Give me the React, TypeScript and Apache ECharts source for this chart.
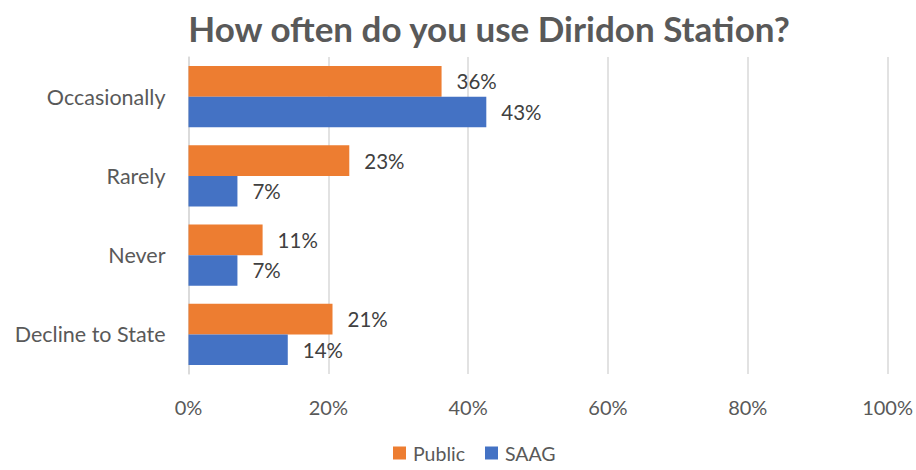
import React, { useEffect, useRef } from "react";
import * as echarts from "echarts";

const categories = ["Occasionally", "Rarely", "Never", "Decline to State"];
const publicValues = [36.2, 23.0, 10.6, 20.6];
const saagValues = [42.6, 7.0, 7.0, 14.2];
const xTicks = [0, 20, 40, 60, 80, 100];

const FONT = "Lato";

export default function App() {
  const ref = useRef<HTMLDivElement>(null);
  useEffect(() => {
    if (!ref.current) return;
    const chart = echarts.init(ref.current, undefined, { renderer: "svg" });
    const label = {
      show: true,
      position: "right",
      distance: 15,
      fontFamily: FONT,
      fontSize: 20.5,
      color: "#404040",
      formatter: (p: any) => Math.round(p.value) + "%",
    };
    chart.setOption({
      animation: false,
      backgroundColor: "#ffffff",
      title: {
        text: "How often do you use Diridon Station?",
        left: 484,
        top: 5,
        textAlign: "center",
        textStyle: { fontFamily: FONT, fontSize: 35, fontWeight: "bold", color: "#595959" },
      },
      legend: {
        bottom: 2,
        left: 388,
        itemWidth: 13,
        itemHeight: 13,
        itemGap: 20,
        icon: "rect",
        textStyle: { fontFamily: FONT, fontSize: 19.5, color: "#595959", padding: [0, 0, 0, 2] },
        data: ["Public", "SAAG"],
      },
      grid: { left: 188.5, right: 26, top: 57, bottom: 96, containLabel: false },
      xAxis: {
        type: "value",
        min: xTicks[0],
        max: xTicks[xTicks.length - 1],
        interval: 20,
        axisLine: { show: false },
        axisTick: { show: false },
        axisLabel: {
          formatter: "{value}%",
          fontFamily: FONT,
          fontSize: 20,
          color: "#595959",
          margin: 23,
        },
        splitLine: { show: true, lineStyle: { color: "#d9d9d9", width: 1.5 } },
      },
      yAxis: {
        type: "category",
        data: categories,
        inverse: true,
        axisLine: { show: true, lineStyle: { color: "#d9d9d9", width: 1.5 } },
        axisTick: { show: false },
        axisLabel: { fontFamily: FONT, fontSize: 21.5, color: "#595959", margin: 23 },
      },
      series: [
        {
          name: "Public",
          type: "bar",
          data: publicValues,
          itemStyle: { color: "#ED7D31" },
          barCategoryGap: "23%",
          barGap: "0%",
          label,
        },
        {
          name: "SAAG",
          type: "bar",
          data: saagValues,
          itemStyle: { color: "#4472C4" },
          barCategoryGap: "23%",
          barGap: "0%",
          label,
        },
      ],
    });
    return () => chart.dispose();
  }, []);
  return (
    <div
      ref={ref}
      style={{ position: "fixed", left: 0, top: 0, width: 916, height: 470 }}
    />
  );
}
